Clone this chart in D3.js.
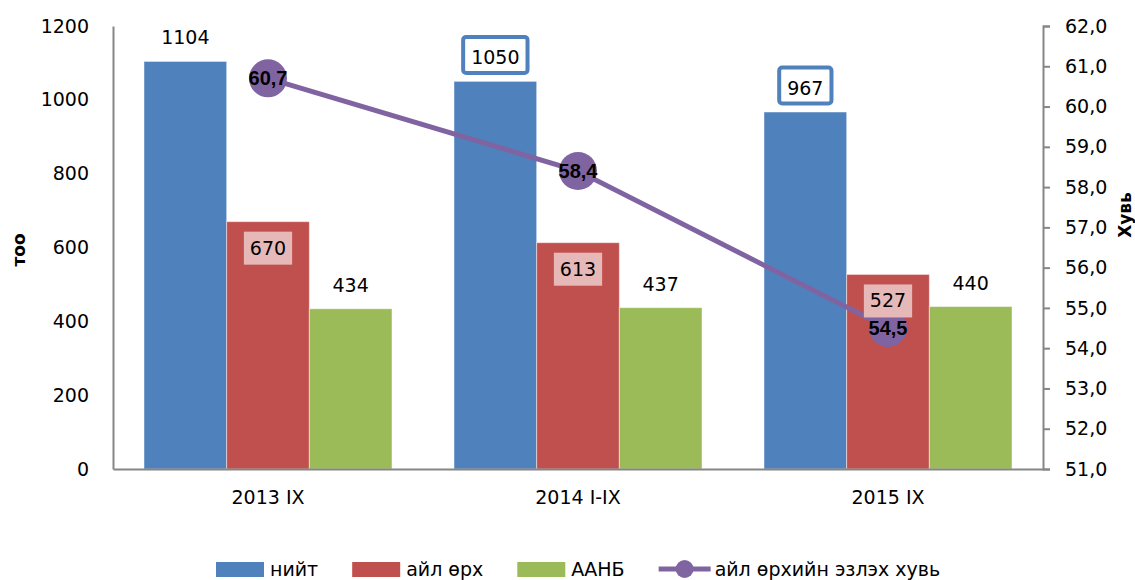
<!DOCTYPE html>
<html>
<head>
<meta charset="utf-8">
<style>
  body { margin: 0; background: #fff; }
  text { font-family: "DejaVu Sans", sans-serif; fill: #000; }
  .axis path, .axis line { stroke: #868686; stroke-width: 2; }
</style>
<title>айл өрх</title>
</head>
<body>
<script src="https://cdn.jsdelivr.net/npm/d3@7"></script>
<script>
  // data
  var categories = ["2013 IX", "2014 I-IX", "2015 IX"];
  var seriesNames = ["нийт", "айл өрх", "ААНБ"];
  var total = [1104, 1050, 967];
  var household = [670, 613, 527];
  var company = [434, 437, 440];
  var share = [60.7, 58.4, 54.5];
  var shareName = "айл өрхийн эзлэх хувь";
  var leftTicks = [0, 200, 400, 600, 800, 1000, 1200];
  var rightTicks = [51, 52, 53, 54, 55, 56, 57, 58, 59, 60, 61, 62];

  var colors = ["#4F81BD", "#C0504D", "#9BBB59"];
  var lineColor = "#8064A2";

  var width = 1135, height = 580;
  var margin = {top: 26, right: 92, bottom: 111, left: 113};

  var svg = d3.select("body").append("svg")
    .attr("width", width)
    .attr("height", height);

  var x = d3.scaleBand().domain(categories)
    .range([margin.left, width - margin.right]);
  var xs = d3.scaleBand().domain(seriesNames)
    .range([0, x.bandwidth()]).paddingInner(0).paddingOuter(0.375);
  var y = d3.scaleLinear().domain([0, 1200])
    .range([height - margin.bottom, margin.top]);
  var y2 = d3.scaleLinear().domain([51, 62])
    .range([height - margin.bottom, margin.top]);

  var values = [total, household, company];
  var rows = [];
  categories.forEach(function (c, i) {
    seriesNames.forEach(function (s, j) {
      rows.push({cat: c, ser: s, j: j, i: i, v: values[j][i]});
    });
  });

  var comma1 = function (d) { return d3.format(".1f")(d).replace(".", ","); };

  // axes
  svg.append("g").attr("class", "axis")
    .attr("transform", "translate(" + margin.left + ",0)")
    .call(d3.axisLeft(y).tickValues(leftTicks).tickSize(0).tickPadding(24).tickFormat(d3.format("d")))
    .call(function (g) { g.selectAll("text").style("font-size", "19px").style("font-family", "DejaVu Sans"); });

  svg.append("g").attr("class", "axis")
    .attr("transform", "translate(" + (width - margin.right) + ",0)")
    .call(d3.axisRight(y2).tickValues(rightTicks).tickSizeOuter(0).tickSize(7).tickPadding(15)
      .tickFormat(comma1))
    .call(function (g) { g.selectAll("text").style("font-size", "19px").style("font-family", "DejaVu Sans"); });

  // bars
  svg.append("g").selectAll("rect")
    .data(rows).enter().append("rect")
    .attr("x", function (d) { return x(d.cat) + xs(d.ser); })
    .attr("y", function (d) { return y(d.v); })
    .attr("width", xs.bandwidth())
    .attr("height", function (d) { return y(0) - y(d.v); })
    .attr("fill", function (d) { return colors[d.j]; })
    .attr("stroke", "rgba(255,255,255,0.45)")
    .attr("stroke-width", 1);

  svg.append("g").attr("class", "axis")
    .attr("transform", "translate(0," + y(0) + ")")
    .call(d3.axisBottom(x).tickSize(0).tickPadding(22))
    .call(function (g) { g.selectAll("text").style("font-size", "19px").style("font-family", "DejaVu Sans"); });

  // line
  var cx = function (i) { return x(categories[i]) + x.bandwidth() / 2; };
  var line = d3.line()
    .x(function (d, i) { return cx(i); })
    .y(function (d) { return y2(d); });
  svg.append("path").datum(share)
    .attr("d", line)
    .attr("fill", "none")
    .attr("stroke", lineColor)
    .attr("stroke-width", 5);
  svg.append("g").selectAll("circle")
    .data(share).enter().append("circle")
    .attr("cx", function (d, i) { return cx(i); })
    .attr("cy", function (d) { return y2(d); })
    .attr("r", 19)
    .attr("fill", lineColor);

  // bar labels
  var labels = svg.append("g");
  rows.forEach(function (d) {
    var bx = x(d.cat) + xs(d.ser) + xs.bandwidth() / 2;
    var top = y(d.v);
    if (d.j === 1) {
      var t = labels.append("text").attr("x", bx).attr("y", top + 33)
        .attr("text-anchor", "middle").style("font-size", "19px").text(d.v);
      var w = t.node().getComputedTextLength();
      labels.insert("rect", function () { return t.node(); })
        .attr("x", bx - w / 2 - 6).attr("y", top + 10)
        .attr("width", w + 12).attr("height", 33)
        .attr("fill", "#E6B9B8");
    } else {
      var t2 = labels.append("text").attr("x", bx).attr("y", top - 17)
        .attr("text-anchor", "middle").style("font-size", "19px").text(d.v);
      if (d.j === 0 && d.i > 0) {
        var w2 = t2.node().getComputedTextLength();
        labels.insert("rect", function () { return t2.node(); })
          .attr("x", bx - w2 / 2 - 8).attr("y", top - 17 - 27.5)
          .attr("width", w2 + 16).attr("height", 36)
          .attr("rx", 3)
          .attr("fill", "#fff")
          .attr("stroke", colors[0])
          .attr("stroke-width", 4);
      }
    }
  });

  // line labels
  svg.append("g").selectAll("text")
    .data(share).enter().append("text")
    .attr("x", function (d, i) { return cx(i); })
    .attr("y", function (d) { return y2(d) + 7; })
    .attr("text-anchor", "middle")
    .style("font-family", "Liberation Sans, Arial, sans-serif")
    .style("font-weight", "bold")
    .style("font-size", "20px")
    .text(comma1);

  // axis titles
  svg.append("text")
    .attr("transform", "translate(25,250) rotate(-90)")
    .attr("text-anchor", "middle")
    .style("font-weight", "bold").style("font-size", "17px")
    .text("тоо");
  svg.append("text")
    .attr("transform", "translate(1131,215) rotate(-90)")
    .attr("text-anchor", "middle")
    .style("font-weight", "bold").style("font-size", "17px")
    .text("Хувь");

  // legend
  var legend = svg.append("g");
  var lx = 216, ly = 562;
  seriesNames.forEach(function (s, j) {
    legend.append("rect").attr("x", lx).attr("y", ly)
      .attr("width", 48).attr("height", 15).attr("fill", colors[j]);
    var t = legend.append("text").attr("x", lx + 54).attr("y", ly + 14)
      .style("font-size", "19px").text(s);
    lx += 54 + t.node().getComputedTextLength() + 34;
  });
  legend.append("line").attr("x1", lx).attr("x2", lx + 52)
    .attr("y1", ly + 7).attr("y2", ly + 7)
    .attr("stroke", lineColor).attr("stroke-width", 5);
  legend.append("circle").attr("cx", lx + 26).attr("cy", ly + 7)
    .attr("r", 9).attr("fill", lineColor);
  legend.append("text").attr("x", lx + 56).attr("y", ly + 14)
    .style("font-size", "19px").text(shareName);
</script>
</body>
</html>
